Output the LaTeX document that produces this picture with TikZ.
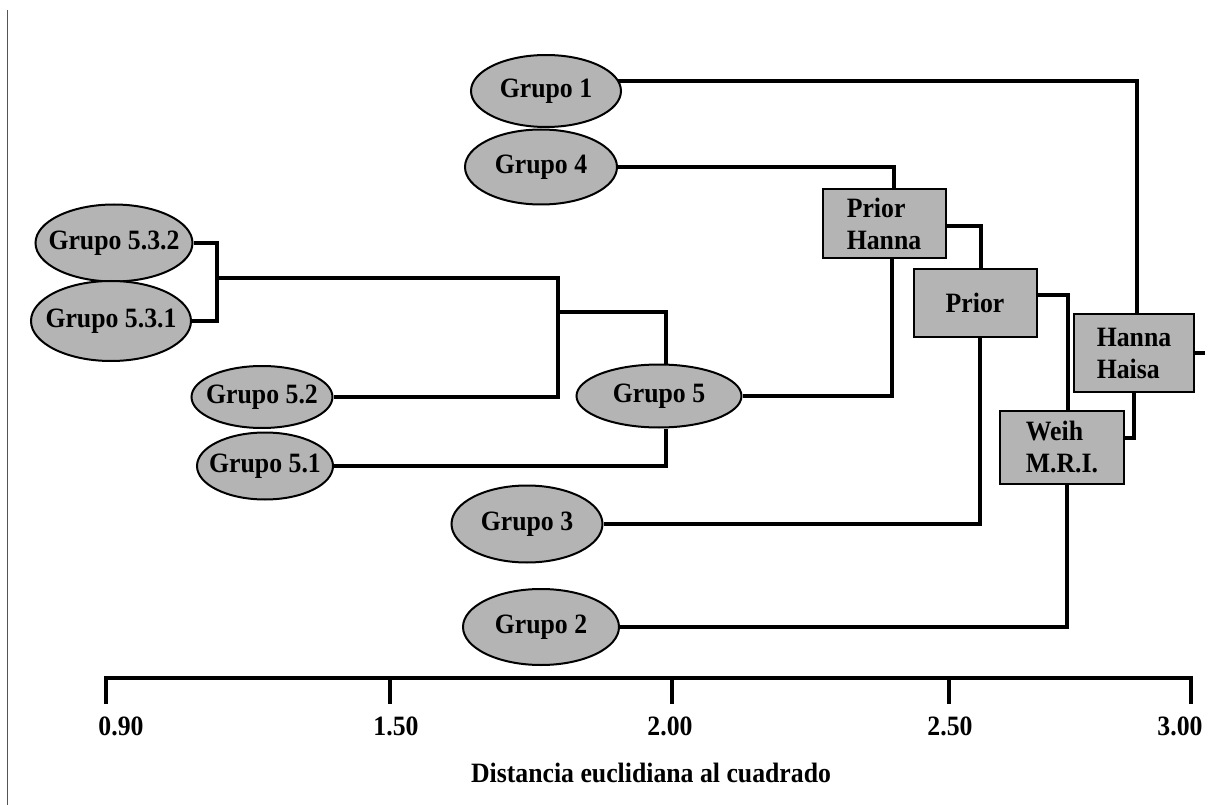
\documentclass[tikz,border=0pt]{standalone}
\usepackage{fontspec}
\setmainfont{Liberation Serif}[FakeStretch=0.92]
\usepackage{tikz}
\usetikzlibrary{positioning,backgrounds,shapes.geometric}
\definecolor{CGris}{HTML}{B4B4B4}
\definecolor{CMarco}{HTML}{555555}

\begin{document}
\begin{tikzpicture}[x=1pt,y=-1pt,
  every node/.style={font=\bfseries\fontsize{28}{32}\selectfont},
  grupo/.style={ellipse,draw,fill=CGris,line width=2pt,inner xsep=-12pt,inner ysep=0pt},
  metodo/.style={rectangle,draw,fill=CGris,line width=2pt,align=left,minimum width=123pt,minimum height=69pt},
  enlace/.style={line width=3.5pt}]
  \useasboundingbox (0,0) rectangle (1211,805);
  \draw[CMarco,line width=1pt] (7,10) -- (7,805);

  % grupos
  \node[grupo,minimum width=150pt,minimum height=72pt] (g1) at (546,91) {Grupo 1};
  \node[grupo,minimum width=152pt,minimum height=75pt] (g4) at (541,167) {Grupo 4};
  \node[grupo,minimum width=157pt,minimum height=77pt] (g532) at (114,243) {Grupo 5.3.2};
  \node[grupo,minimum width=160pt,minimum height=80pt] (g531) at (111,321) {Grupo 5.3.1};
  \node[grupo,minimum width=141pt,minimum height=62pt] (g52) at (262,397) {Grupo 5.2};
  \node[grupo,minimum width=136pt,minimum height=67pt] (g51) at (265,466) {Grupo 5.1};
  \node[grupo,minimum width=165pt,minimum height=63pt] (g5) at (659,396) {Grupo 5};
  \node[grupo,minimum width=151pt,minimum height=77pt] (g3) at (527,524) {Grupo 3};
  \node[grupo,minimum width=156pt,minimum height=76pt] (g2) at (541,627) {Grupo 2};

  % metodos
  \node[metodo] (ph) at (884,224) {Prior\\Hanna};
  \node[metodo,minimum height=68pt] (pr) at (975,303) {Prior};
  \node[metodo,minimum width=120pt,minimum height=77pt] (hh) at (1134,353) {Hanna\\Haisa};
  \node[metodo,minimum width=124pt,minimum height=73pt] (wm) at (1062,447) {Weih\\M.R.I.};

  \coordinate (j53) at (217,278);
  \coordinate (j52) at (558,312);
  \coordinate (raiz) at (1205,353);

  \begin{scope}[on background layer]
    \draw[enlace] ([yshift=10pt]g1.center) -| ([xshift=3pt]hh.north);
    \draw[enlace] (g4) -| ([xshift=10pt]ph.north);
    \draw[enlace] ([yshift=-2pt]ph.center) -| ([xshift=6pt]pr.north);
    \draw[enlace] ([yshift=8pt]pr.center) -| ([xshift=6pt]wm.north);
    \draw[enlace] (hh) -- (raiz);
    \draw[enlace] (hh.south) |- ([yshift=9pt]wm.center);
    \draw[enlace] (g5) -| ([xshift=8pt]ph.south);
    \draw[enlace] (g3) -| ([xshift=5pt]pr.south);
    \draw[enlace] (g2) -| ([xshift=5pt]wm.south);
    \draw[enlace] (g532) -| (j53) |- (g531);
    \draw[enlace] (j53) -| (j52) |- (g52);
    \draw[enlace] (j52) -| ([xshift=7pt]g5.north);
    \draw[enlace] (g51) -| ([xshift=7pt]g5.south);
  \end{scope}

  % eje
  \draw[line width=4.5pt] (106,704) -- (106,678) -- (1191,678) -- (1191,704);
  \foreach \x in {390,672,949}
    \draw[line width=4.5pt] (\x,678) -- (\x,704);
  \foreach \x/\t [count=\i] in {121/0.90,396/1.50,670/2.00,950/2.50,1180/3.00}
    \node (eje\i) at (\x,726) {\t};
  \node (titulo) at (651,773) {Distancia euclidiana al cuadrado};
\end{tikzpicture}
\end{document}
